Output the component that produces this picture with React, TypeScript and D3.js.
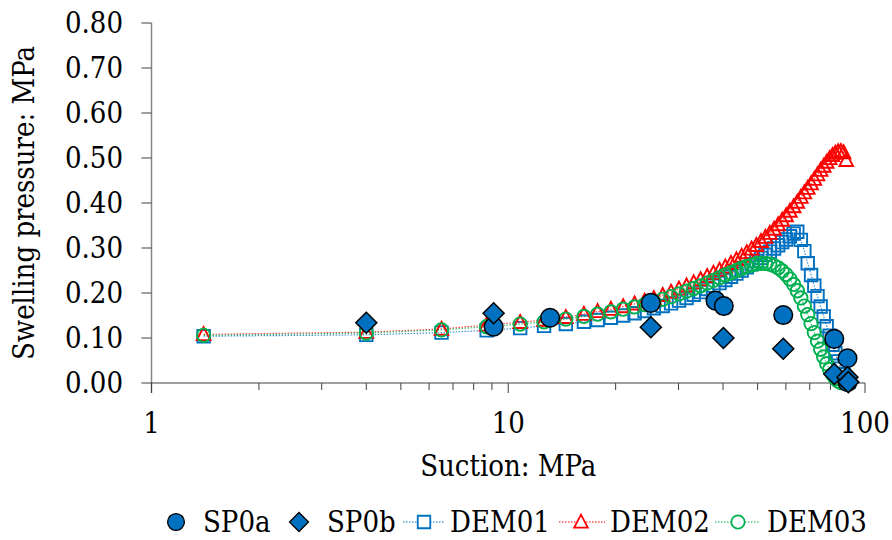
import React from "react";
import * as d3 from "d3";

const W = 892;
const H = 540;

// Experimental data
const sp0aSuction = [9.1, 13.1, 25.1, 38.1, 40.2, 59.0, 82.0, 89.3, 89.3];
const sp0aValues = [0.125, 0.145, 0.178, 0.183, 0.171, 0.151, 0.098, 0.055, 0.002];

const sp0bSuction = [4.0, 9.1, 25.1, 40.1, 59.0, 82.0, 89.3, 89.8];
const sp0bValues = [0.134, 0.155, 0.124, 0.100, 0.076, 0.020, 0.013, 0.002];

// DEM simulations (shared suction steps)
const demSuction = [
  1.4, 4.0, 6.5, 8.7, 10.8, 12.6, 14.5, 16.3, 17.8, 19.4,
  21.0, 22.6, 24.1, 25.6, 27.1, 28.6, 30.1, 31.6, 33.1, 34.6,
  36.1, 37.6, 39.1, 40.6, 42.1, 43.6, 45.1, 46.6, 48.1, 49.6,
  51.1, 52.6, 54.1, 55.6, 57.1, 58.6, 60.1, 61.6, 63.1, 64.6,
  66.1, 67.6, 69.1, 70.6, 72.1, 73.6, 75.1, 76.6, 78.1, 79.6,
  81.1, 82.6, 84.1, 85.6, 87.1, 88.6, 90.1,
];

const dem01Values = [
  0.104, 0.107, 0.112, 0.117, 0.122, 0.127, 0.131, 0.136, 0.140, 0.145,
  0.150, 0.155, 0.160, 0.166, 0.171, 0.177, 0.183, 0.189, 0.196, 0.202,
  0.209, 0.216, 0.222, 0.229, 0.236, 0.243, 0.250, 0.257, 0.264, 0.271,
  0.278, 0.285, 0.292, 0.299, 0.306, 0.313, 0.319, 0.326, 0.332, 0.336,
  0.318, 0.293, 0.266, 0.240, 0.216, 0.193, 0.170, 0.148, 0.126, 0.105,
  0.085, 0.066, 0.048, 0.032, 0.019, 0.009, 0.003,
];

const dem02Values = [
  0.108, 0.113, 0.120, 0.129, 0.135, 0.140, 0.146, 0.153, 0.159, 0.164,
  0.170, 0.176, 0.182, 0.188, 0.195, 0.202, 0.209, 0.216, 0.223, 0.230,
  0.237, 0.244, 0.251, 0.258, 0.266, 0.274, 0.282, 0.290, 0.298, 0.306,
  0.315, 0.324, 0.333, 0.342, 0.352, 0.362, 0.372, 0.382, 0.392, 0.402,
  0.413, 0.423, 0.433, 0.443, 0.453, 0.463, 0.473, 0.482, 0.491, 0.499,
  0.506, 0.511, 0.514, 0.515, 0.512, 0.495,
];

const dem03Values = [
  0.106, 0.111, 0.118, 0.125, 0.131, 0.136, 0.142, 0.148, 0.153, 0.158,
  0.164, 0.169, 0.174, 0.180, 0.186, 0.192, 0.198, 0.204, 0.210, 0.216,
  0.222, 0.228, 0.234, 0.240, 0.245, 0.250, 0.255, 0.259, 0.262, 0.265,
  0.266, 0.266, 0.264, 0.261, 0.256, 0.249, 0.241, 0.231, 0.219, 0.205,
  0.189, 0.171, 0.152, 0.132, 0.112, 0.093, 0.075, 0.058, 0.043, 0.030,
  0.019, 0.010, 0.004, 0.001,
];

const yTicks = [0, 0.1, 0.2, 0.3, 0.4, 0.5, 0.6, 0.7, 0.8];
const xMajorTicks = [1, 10, 100];
const xMinorTicks = [2, 3, 4, 5, 6, 7, 8, 9, 20, 30, 40, 50, 60, 70, 80, 90];

const BLUE = "#0070C0";
const RED = "#FF0000";
const GREEN = "#00B050";
const FONT = '"DejaVu Serif Condensed", "DejaVu Serif"';
const FS = 29;

const x = d3.scaleLog().domain([1, 100]).range([151.5, 865]);
const y = d3.scaleLinear().domain([0, 0.8]).range([383, 23]);

type Pt = { s: number; v: number };
const zipPts = (s: number[], v: number[]): Pt[] => v.map((val, i) => ({ s: s[i], v: val }));

const squarePath = d3.symbol(d3.symbolSquare, 156)()!;
const circleSmall = d3.symbol(d3.symbolCircle, Math.PI * 6.7 * 6.7)()!;
const trianglePath = "M0,-7.3L6.8,5.7L-6.8,5.7Z";
const bigCircle = d3.symbol(d3.symbolCircle, Math.PI * 9.3 * 9.3)()!;
const diamondPath = "M0,-10.5L10.5,0L0,10.5L-10.5,0Z";

const lineGen = d3
  .line<Pt>()
  .x((d) => x(d.s))
  .y((d) => y(d.v));

function DemSeries({ pts, color, shape }: { pts: Pt[]; color: string; shape: string }) {
  return (
    <g>
      <path d={lineGen(pts) || ""} fill="none" stroke={color} strokeWidth={1.2} strokeDasharray="1.5,1.5" opacity={0.75} />
      {pts.map((p, i) => (
        <path
          key={i}
          d={shape}
          transform={`translate(${x(p.s)},${y(p.v)})`}
          fill="none"
          stroke={color}
          strokeWidth={1.9}
        />
      ))}
    </g>
  );
}

function ExpSeries({ pts, shape }: { pts: Pt[]; shape: string }) {
  return (
    <g>
      {pts.map((p, i) => (
        <path
          key={i}
          d={shape}
          transform={`translate(${x(p.s)},${y(p.v)})`}
          fill={BLUE}
          stroke="#000"
          strokeWidth={1.5}
        />
      ))}
    </g>
  );
}

export default function App() {
  const dem01 = zipPts(demSuction, dem01Values);
  const dem02 = zipPts(demSuction, dem02Values);
  const dem03 = zipPts(demSuction, dem03Values);
  const sp0a = zipPts(sp0aSuction, sp0aValues);
  const sp0b = zipPts(sp0bSuction, sp0bValues);
  const [x0, x1] = x.range();
  const [y0, y1] = y.range();

  const legendY = 522;
  const legendItems = [
    { label: "SP0a", kind: "exp", shape: bigCircle, mx: 176, tx: 203 },
    { label: "SP0b", kind: "exp", shape: diamondPath, mx: 299, tx: 327 },
    { label: "DEM01", kind: "dem", shape: squarePath, color: BLUE, mx: 424, lx0: 403, lx1: 445, tx: 450 },
    { label: "DEM02", kind: "dem", shape: trianglePath, color: RED, mx: 581, lx0: 559, lx1: 605, tx: 610 },
    { label: "DEM03", kind: "dem", shape: circleSmall, color: GREEN, mx: 738, lx0: 715, lx1: 760, tx: 767 },
  ];

  return (
    <svg width={W} height={H} style={{ position: "absolute", left: 0, top: 0, background: "#fff" }} fontFamily={FONT} fontSize={FS}>
      <rect x={0} y={0} width={W} height={H} fill="#fff" />
      {/* Y axis */}
      <line x1={x0} x2={x0} y1={y1} y2={y0 + 10} stroke="#868686" strokeWidth={1.5} />
      {yTicks.map((t) => (
        <g key={t}>
          <line x1={x0 - 10} x2={x0} y1={y(t)} y2={y(t)} stroke="#404040" strokeWidth={1} />
          <text x={123} y={y(t)} dy="0.36em" textAnchor="end" fill="#000">
            {t.toFixed(2)}
          </text>
        </g>
      ))}
      {/* X axis */}
      <line x1={x0} x2={x1} y1={y0} y2={y0} stroke="#404040" strokeWidth={1.2} />
      {xMajorTicks.map((t) => (
        <g key={t}>
          <line x1={x(t)} x2={x(t)} y1={y0} y2={y0 + 10} stroke="#404040" strokeWidth={1} />
          <text x={x(t)} y={433} textAnchor="middle" fill="#000">
            {t}
          </text>
        </g>
      ))}
      {xMinorTicks.map((t) => (
        <line key={t} x1={x(t)} x2={x(t)} y1={y0} y2={y0 + 7} stroke="#404040" strokeWidth={1} />
      ))}
      {/* Axis titles */}
      <text x={(x0 + x1) / 2} y={476} textAnchor="middle" fill="#000">
        Suction: MPa
      </text>
      <text transform={`translate(34,${(y0 + y1) / 2}) rotate(-90)`} textAnchor="middle" fill="#000">
        Swelling pressure: MPa
      </text>

      {/* Series */}
      <DemSeries pts={dem01} color={BLUE} shape={squarePath} />
      <DemSeries pts={dem02} color={RED} shape={trianglePath} />
      <DemSeries pts={dem03} color={GREEN} shape={circleSmall} />
      <ExpSeries pts={sp0a} shape={bigCircle} />
      <ExpSeries pts={sp0b} shape={diamondPath} />

      {/* Legend */}
      {legendItems.map((it) => (
        <g key={it.label}>
          {it.kind === "dem" && (
            <line x1={it.lx0} x2={it.lx1} y1={legendY} y2={legendY} stroke={it.color} strokeWidth={1.2} strokeDasharray="1.5,1.5" />
          )}
          {it.kind === "dem" ? (
            <path d={it.shape} transform={`translate(${it.mx},${legendY})`} fill="#fff" stroke={it.color} strokeWidth={1.8} />
          ) : (
            <path d={it.shape} transform={`translate(${it.mx},${legendY}) scale(0.9)`} fill={BLUE} stroke="#000" strokeWidth={1.5} />
          )}
          <text x={it.tx} y={legendY + 10} fill="#000">
            {it.label}
          </text>
        </g>
      ))}
    </svg>
  );
}
